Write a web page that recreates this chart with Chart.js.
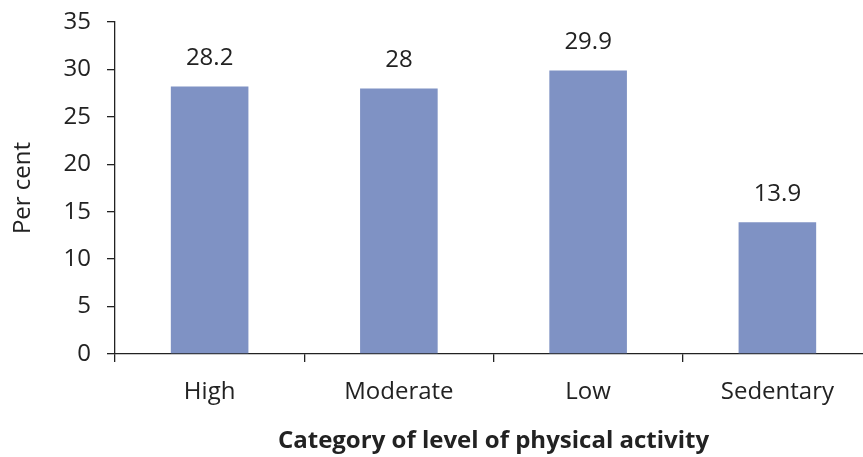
<!DOCTYPE html>
<html>
<head>
<meta charset="utf-8">
<script src="https://cdn.jsdelivr.net/npm/chart.js@4"></script>
<style>
    html, body { margin: 0; padding: 0; background: #fff; overflow: hidden; }
    #wrap { width: 872px; height: 457px; }
</style>
</head>
<body>
<div id="wrap"><canvas id="activityChart"></canvas></div>
<script>
const categories = ['High', 'Moderate', 'Low', 'Sedentary'];
const perCent = [28.2, 28, 29.9, 13.9];
const yTicks = [0, 5, 10, 15, 20, 25, 30, 35];

const fontFamily = "'Open Sans', 'Liberation Sans', Arial, sans-serif";
const tickFont = { family: fontFamily, size: 24 };
const ink = '#222';

// value labels above each bar
const valueLabels = {
    id: 'valueLabels',
    afterDatasetsDraw(chart) {
        const ctx = chart.ctx;
        const meta = chart.getDatasetMeta(0);
        ctx.save();
        ctx.font = tickFont.size + 'px ' + tickFont.family;
        ctx.fillStyle = ink;
        ctx.textAlign = 'center';
        ctx.textBaseline = 'middle';
        meta.data.forEach(function (bar, i) {
            ctx.fillText(String(perCent[i]), bar.x, bar.y - 28);
        });
        ctx.restore();
    }
};

document.addEventListener('DOMContentLoaded', function () {
    const ctx = document.getElementById('activityChart').getContext('2d');
    new Chart(ctx, {
        type: 'bar',
        data: {
            labels: categories,
            datasets: [{
                label: 'Per cent',
                data: perCent,
                backgroundColor: '#7f92c4',
                borderWidth: 0,
                barPercentage: 0.41,
                categoryPercentage: 1
            }]
        },
        options: {
            responsive: true,
            maintainAspectRatio: false,
            animation: false,
            layout: { padding: { top: 22, right: 0, left: 0, bottom: 0 } },
            plugins: {
                legend: { display: false },
                tooltip: { enabled: false }
            },
            scales: {
                x: {
                    offset: true,
                    grid: {
                        offset: true,
                        drawOnChartArea: false,
                        color: ink,
                        lineWidth: 1.3,
                        tickLength: 8
                    },
                    border: { color: ink, width: 1.3 },
                    ticks: { color: ink, font: tickFont, padding: 16 },
                    title: {
                        display: true,
                        text: 'Category of level of physical activity',
                        color: ink,
                        font: { family: fontFamily, size: 24, weight: 'bold' },
                        padding: { top: 0, bottom: 1 }
                    },
                    afterFit: function (scale) { scale.height = 103; }
                },
                y: {
                    min: 0,
                    max: 35,
                    afterBuildTicks: function (scale) {
                        scale.ticks = yTicks.map(function (v) { return { value: v }; });
                    },
                    grid: {
                        drawOnChartArea: false,
                        color: ink,
                        lineWidth: 1.3,
                        tickLength: 8
                    },
                    border: { color: ink, width: 1.3 },
                    ticks: { color: ink, font: tickFont, padding: 16 },
                    title: {
                        display: true,
                        text: 'Per cent',
                        color: ink,
                        font: tickFont,
                        padding: { top: 9, bottom: 0 }
                    },
                    afterFit: function (scale) {
                        scale.width = 115;
                        scale.paddingTop = 0;
                        scale.paddingBottom = 0;
                    }
                }
            }
        },
        plugins: [valueLabels]
    });
});
</script>
</body>
</html>
